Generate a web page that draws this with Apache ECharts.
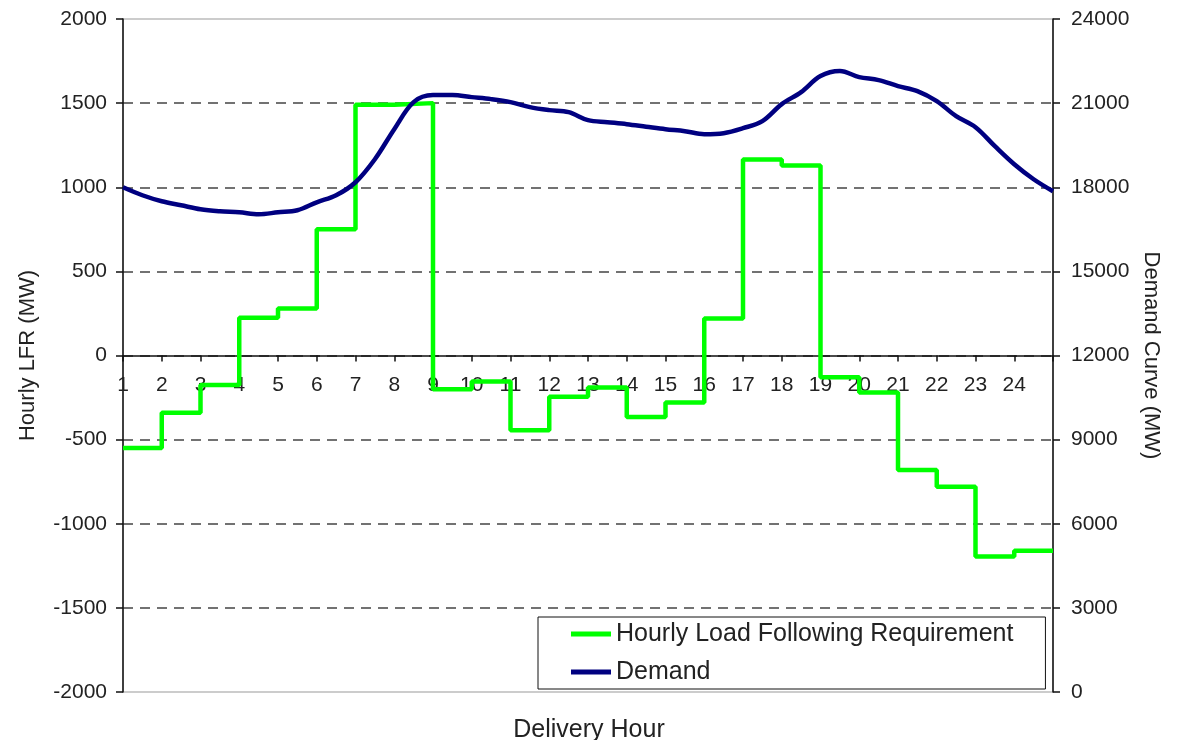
<!DOCTYPE html>
<html>
<head>
<meta charset="utf-8">
<title>Hourly Load Following Requirement</title>
<script src="https://cdn.jsdelivr.net/npm/echarts@6/dist/echarts.min.js"></script>
<style>
  html, body { margin: 0; padding: 0; background: #fff; }
  #chart { width: 1178px; height: 740px; }
</style>
</head>
<body>
<div id="chart"></div>
<script>
// Hour ticks shown on the x axis
const hourLabels = [1, 2, 3, 4, 5, 6, 7, 8, 9, 10, 11, 12, 13, 14, 15, 16, 17, 18, 19, 20, 21, 22, 23, 24]

// Hourly LFR (MW), held from hour h to h+1; the last value repeats at 25 to close the step
const lfrHours = [1, 2, 3, 4, 5, 6, 7, 8, 9, 10, 11, 12, 13, 14, 15, 16, 17, 18, 19, 20, 21, 22, 23, 24, 25]
const lfrValues = [-550, -340, -175, 225, 280, 750, 1490, 1500, -200, -155, -445, -245, -190, -365, -280, 220,
  1165, 1130, -130, -220, -680, -780, -1195, -1160, -1160]

// Demand curve (MW), read every half hour
const demandHours = [1, 1.5, 2, 2.5, 3, 3.5, 4, 4.5, 5, 5.5, 6, 6.5, 7, 7.5, 8, 8.5, 9, 9.5, 10, 10.5, 11, 11.5,
  12, 12.5, 13, 13.5, 14, 14.5, 15, 15.5, 16, 16.5, 17, 17.5, 18, 18.5, 19, 19.5, 20, 20.5, 21, 21.5, 22, 22.5,
  23, 23.5, 24, 24.5, 25]
const demandValues = [18000, 17715, 17500, 17357, 17214, 17143, 17107, 17036, 17107, 17179, 17464, 17714, 18179,
  19000, 20071, 21036, 21286, 21286, 21214, 21143, 21036, 20857, 20750, 20679, 20393, 20321, 20250, 20160, 20071,
  20000, 19893, 19929, 20107, 20357, 20964, 21393, 21964, 22143, 21929, 21821, 21607, 21429, 21071, 20536, 20143,
  19464, 18821, 18286, 17857]

const chart = echarts.init(document.getElementById('chart'))
const font = 'Liberation Sans, Arial, sans-serif'
const textColor = '#222'

// grid geometry: left value axis runs -2000..2000 over 673px, so zero sits 336px above the bottom edge
const gridTop = 19
const gridBottom = 48
const plotHeight = 740 - gridTop - gridBottom

chart.setOption({
  animation: false,
  textStyle: { fontFamily: font },
  title: {
    text: 'Delivery Hour',
    left: 'center',
    top: 713,
    textStyle: { fontFamily: font, fontSize: 25, fontWeight: 'normal', color: textColor }
  },
  grid: {
    left: 123, right: 125, top: gridTop, bottom: gridBottom,
    show: true, borderColor: '#999', borderWidth: 1, backgroundColor: '#fff'
  },
  legend: {
    orient: 'vertical',
    left: 538,
    top: 617,
    padding: [2, 32, 2, 33],
    itemGap: 8,
    itemWidth: 40,
    itemHeight: 5,
    icon: 'rect',
    backgroundColor: '#fff',
    borderColor: '#111',
    borderWidth: 1,
    textStyle: { fontFamily: font, fontSize: 25, color: textColor, lineHeight: 30 },
    data: ['Hourly Load Following Requirement', 'Demand']
  },
  xAxis: {
    type: 'value',
    min: 1,
    max: 25,
    interval: 1,
    position: 'bottom',
    // lift the axis to the zero line of the left axis
    offset: -plotHeight / 2,
    axisLine: { onZero: false, lineStyle: { color: '#111', width: 1.5 } },
    axisTick: { length: 6, lineStyle: { color: '#111', width: 1.5 } },
    axisLabel: {
      margin: 19,
      fontSize: 21,
      color: textColor,
      formatter: v => (hourLabels.includes(v) ? String(v) : '')
    },
    splitLine: { show: false }
  },
  yAxis: [
    {
      type: 'value',
      min: -2000,
      max: 2000,
      interval: 500,
      name: 'Hourly LFR (MW)',
      nameLocation: 'middle',
      nameRotate: 90,
      nameGap: 84,
      nameTextStyle: { fontFamily: font, fontSize: 22, color: textColor },
      axisLine: { show: true, onZero: false, lineStyle: { color: '#111', width: 1.5 } },
      axisTick: { show: true, length: 7, lineStyle: { color: '#111', width: 1.5 } },
      axisLabel: { margin: 16, fontSize: 21, color: textColor, formatter: v => String(v) },
      splitLine: {
        show: true, showMinLine: false, showMaxLine: false,
        lineStyle: { color: '#444', width: 1.5, type: [10, 7] }
      }
    },
    {
      type: 'value',
      position: 'right',
      min: 0,
      max: 24000,
      interval: 3000,
      name: 'Demand Curve (MW)',
      nameLocation: 'middle',
      nameRotate: -90,
      nameGap: 86,
      nameTextStyle: { fontFamily: font, fontSize: 22, color: textColor },
      axisLine: { show: true, onZero: false, lineStyle: { color: '#111', width: 1.5 } },
      axisTick: { show: true, length: 7, lineStyle: { color: '#111', width: 1.5 } },
      axisLabel: { margin: 18, fontSize: 21, color: textColor, formatter: v => String(v) },
      splitLine: { show: false }
    }
  ],
  series: [
    {
      name: 'Hourly Load Following Requirement',
      type: 'line',
      step: 'end',
      yAxisIndex: 0,
      showSymbol: false,
      color: '#00ff00',
      lineStyle: { color: '#00ff00', width: 4.5 },
      data: lfrHours.map((h, i) => [h, lfrValues[i]])
    },
    {
      name: 'Demand',
      type: 'line',
      smooth: 0.35,
      yAxisIndex: 1,
      showSymbol: false,
      color: '#000080',
      lineStyle: { color: '#000080', width: 4.5 },
      data: demandHours.map((h, i) => [h, demandValues[i]])
    }
  ]
})

window.addEventListener('resize', () => chart.resize())
</script>
</body>
</html>
